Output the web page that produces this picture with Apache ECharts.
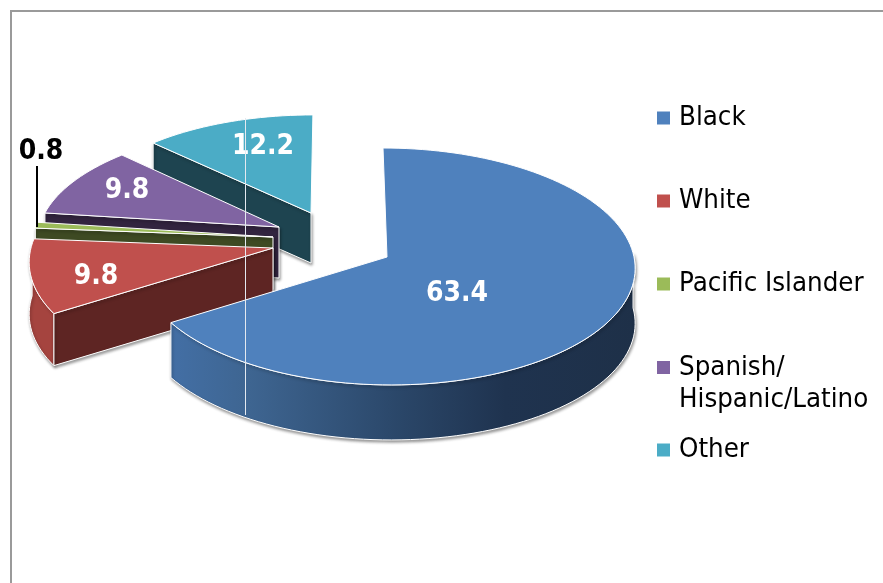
<!DOCTYPE html>
<html><head><meta charset="utf-8">
<style>html,body{margin:0;padding:0;background:#fff}#c{width:883px;height:583px}</style>
<script src="https://cdn.jsdelivr.net/npm/echarts@6/dist/echarts.min.js"></script>
</head><body><div id="c"></div>
<script>
const categories = ['Black','White','Pacific Islander','Spanish/\nHispanic/Latino','Other'];
const values = [63.4, 9.8, 0.8, 9.8, 12.2];
const topColors = ['#4F81BD','#C0504D','#9BBB59','#8064A2','#4BACC6'];
const wallColors = ['#2A4668','#5E2523','#3E4A23','#32243F','#1E4450'];
const arcColors = [null,'#A5443F','#3E4A23','#32243F','#1E4450'];
const textColors = ['#fff','#fff','#000','#fff','#fff'];

// layout: where each exploded slice's apex sits, its apparent size, and its label offset from the apex
const apexX = [387, 273, 273, 279, 311];
const apexY = [257, 248, 237, 227, 213];
const scaleX = [1, 0.98, 0.97, 0.97, 0.95];
const scaleY = [1, 1, 0.97, 0.925, 0.9];
const shear = [-4, 10, -4, 8, 2];
const depth = [55, 52, 52, 51, 50];
const labelDX = [70, -177, -232, -152, -48];
const labelDY = [37, 29, -85, -36, -66];
const paintOrder = [5, 4, 3, 2, 1];
const RX = 247, RY = 117.7, PERSP = 0.08;

const total = values.reduce((a, b) => a + b, 0);
const starts = [];
values.reduce((acc, v, i) => { starts[i] = acc; return acc + v; }, 0);

function pt(i, deg, down) {
  const t = deg * Math.PI / 180, X = Math.sin(t), Y = Math.cos(t), den = 1 + PERSP * Y;
  return [apexX[i] + scaleX[i] * (RX * X / den + shear[i] * Y), apexY[i] - scaleY[i] * RY * Y / den + (down ? depth[i] : 0)];
}
function arc(i, a0, a1, down) {
  const pts = [], n = Math.max(2, Math.ceil(Math.abs(a1 - a0) / 2));
  for (let k = 0; k <= n; k++) pts.push(pt(i, a0 + (a1 - a0) * k / n, down));
  return pts;
}
const edge = '#ffffff';
const shadow = { shadowColor: 'rgba(0,0,0,0.4)', shadowBlur: 3, shadowOffsetX: 1, shadowOffsetY: 2 };

function renderSlice(i) {
  return function (params, api) {
    const a0 = starts[i] / total * 360, a1 = a0 + api.value(0) / total * 360;
    const apex = [apexX[i], apexY[i]], d = depth[i];
    const children = [];
    // outer rim: only the part of the arc that faces the viewer
    const rimA = Math.max(a0, 88), rimB = Math.min(a1, 272);
    if (rimB > rimA) {
      const rim = arc(i, rimA, rimB, false).concat(arc(i, rimB, rimA, true));
      const fill = i === 0 ? new echarts.graphic.LinearGradient(0, 0, 1, 0, [
        { offset: 0, color: '#436FA5' }, { offset: 0.17, color: '#3E6591' },
        { offset: 0.5, color: '#2A4668' }, { offset: 0.72, color: '#1F334F' }, { offset: 1, color: '#1E3048' }
      ]) : arcColors[i];
      children.push({ type: 'polygon', shape: { points: rim },
        style: Object.assign({ fill, stroke: edge, lineWidth: 1 }, shadow) });
    }
    // straight cut wall below the edge that faces the viewer
    if (i > 0) {
      const c = pt(i, a0, false);
      children.push({ type: 'polygon', shape: { points: [apex, c, [c[0], c[1] + d], [apex[0], apex[1] + d]] },
        style: Object.assign({ fill: wallColors[i], stroke: edge, lineWidth: 1 }, shadow) });
    }
    // top face
    const topPts = [apex].concat(arc(i, a0, a1, false));
    children.push({ type: 'polygon', shape: { points: topPts },
      style: { fill: topColors[i], stroke: edge, lineWidth: 1 } });
    // value label, with leader for the thin slice
    const lx = apex[0] + labelDX[i], ly = apex[1] + labelDY[i];
    if (i === 2) {
      children.push({ type: 'line', shape: { x1: lx - 4, y1: ly + 14, x2: lx - 4, y2: ly + 75 },
        style: { stroke: '#000', lineWidth: 2 } });
    }
    children.push({ type: 'text', z2: 10, x: lx, y: ly, style: {
      text: String(api.value(0)), fill: textColors[i], font: 'bold 28px "DejaVu Sans Condensed","DejaVu Sans"', align: 'center', verticalAlign: 'middle' } });
    return { type: 'group', children };
  };
}

const chart = echarts.init(document.getElementById('c'), null, { renderer: 'canvas' });
const legendCentre = [117, 200, 283, 383, 449];
const lineH = 32;
chart.setOption({
  animation: false,
  backgroundColor: '#fff',
  color: topColors,
  legend: categories.map((name, i) => ({
    show: true, orient: 'vertical', left: 657, top: legendCentre[i] - (i === 3 ? lineH : lineH / 2),
    padding: 0, selectedMode: false, itemWidth: 13, itemHeight: i === 3 ? 46 : 13,
    textStyle: { fontFamily: '"DejaVu Sans Condensed","DejaVu Sans"', fontSize: 27.4, color: '#000', lineHeight: lineH, padding: [2, 0, 0, 4] },
    data: [i === 3 ? { name, icon: 'path://M0 0H13V13H0Z M0 46L13 46' } : { name, icon: 'rect' }]
  })),
  series: categories.map((name, i) => ({
    type: 'custom', name, coordinateSystem: 'none', z: paintOrder[i] + 1,
    itemStyle: { color: topColors[i] }, silent: true,
    data: [[values[i]]], renderItem: renderSlice(i)
  })),
  graphic: [
    { type: 'polyline', z: 1, silent: true, shape: { points: [[11, 583], [11, 11], [883, 11]] },
      style: { fill: 'none', stroke: '#9a9a9a', lineWidth: 2 } },
    { type: 'line', z: 9, silent: true, shape: { x1: 245.5, y1: 118, x2: 245.5, y2: 415 },
      style: { stroke: '#e4e9f0', lineWidth: 1 } }
  ]
});
</script></body></html>
